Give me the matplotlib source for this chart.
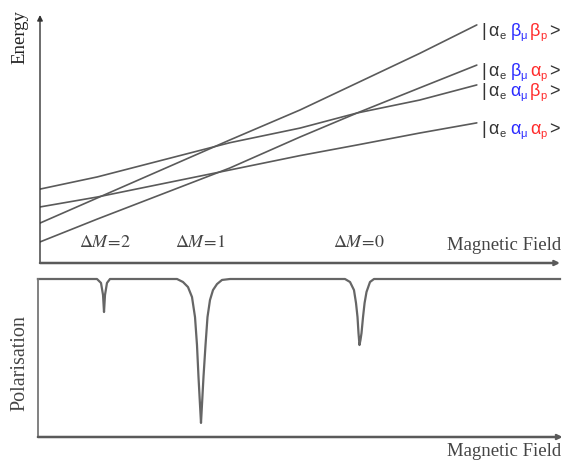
import matplotlib
matplotlib.use("Agg")
import matplotlib.pyplot as plt
import matplotlib.transforms as mtransforms


# ----------------------------------------------------------
# Data
# ----------------------------------------------------------

# top panel : energy levels vs magnetic field (arbitrary units)
field = [0.0, 1.1, 3.65, 5.0, 6.1, 7.3, 8.4]

energy_bb = [1.61, 2.62, 4.96, 6.17, 7.26, 8.45, 9.60]   # |ae bmu bp>
energy_ba = [0.85, 1.77, 3.83, 5.08, 6.05, 7.06, 7.98]   # |ae bmu ap>
energy_ab = [2.98, 3.47, 4.85, 5.44, 6.05, 6.57, 7.18]   # |ae amu bp>
energy_aa = [2.26, 2.66, 3.75, 4.33, 4.76, 5.24, 5.65]   # |ae amu ap>

levels = [energy_bb, energy_ba, energy_ab, energy_aa]

# spin labels (electron, muon, proton) for each level
spin_labels = [
    ("α", "β", "β"),
    ("α", "β", "α"),
    ("α", "α", "β"),
    ("α", "α", "α"),
]

transition_labels = ["2", "1", "0"]
transition_field = [1.25, 3.08, 6.13]

# bottom panel : polarisation vs magnetic field
pol_field = [
    -0.04, 1.096, 1.173, 1.212, 1.231, 1.25, 1.288, 1.346,
    2.635, 2.75, 2.846, 2.923, 2.981, 3.019, 3.048, 3.077, 3.096,
    3.115, 3.144, 3.183, 3.221, 3.269, 3.327, 3.404, 3.5, 3.654,
    5.865, 5.962, 6.038, 6.077, 6.106, 6.125, 6.144, 6.163, 6.183,
    6.212, 6.242, 6.279, 6.346, 6.423, 10.0,
]
polarisation = [
    1.0, 1.0, 0.975, 0.899, 0.791, 0.899, 0.975, 1.0,
    1.0, 0.981, 0.949, 0.886, 0.759, 0.582, 0.380, 0.203, 0.089,
    0.203, 0.380, 0.582, 0.759, 0.867, 0.930, 0.968, 0.994, 1.0,
    1.0, 0.981, 0.930, 0.848, 0.759, 0.658, 0.582, 0.614, 0.658,
    0.759, 0.848, 0.918, 0.981, 1.0, 1.0,
]


W, H = 566, 468
SERIF = "Liberation Serif"
SANS = "Liberation Sans"
DARK = "#333333"
LINE = "#5a5a5a"
BLUE = "#2b2bff"
RED = "#ff2b2b"


def fig_pos(px, py):
    return px / W, 1 - py / H


fig = plt.figure(figsize=(W / 100, H / 100), dpi=100)

# ----------------------------------------------------------
# Top panel
# ----------------------------------------------------------

ax1 = fig.add_axes([40 / W, (H - 263) / H, 520 / W, 248 / H])
ax1.set_xlim(0, 10)
ax1.set_ylim(0, 10)
ax1.axis("off")

for energy in levels:
    ax1.plot(field, energy, color=LINE, lw=1.2, solid_capstyle="round")

ax1.annotate("", xy=(0, 10), xytext=(0, 0), annotation_clip=False,
             arrowprops=dict(arrowstyle="-|>", color=DARK, lw=1.0,
                             mutation_scale=8, shrinkA=0, shrinkB=0))
ax1.annotate("", xy=(10, 0), xytext=(0, 0), annotation_clip=False,
             arrowprops=dict(arrowstyle="->", color=LINE, lw=1.8,
                             mutation_scale=7, shrinkA=0, shrinkB=0))

for label, b in zip(transition_labels, transition_field):
    ax1.text(b, 0.85, r"$\Delta M\!=\!" + label + "$", ha="center",
             va="center", fontsize=13, color="#444444",
             math_fontfamily="stix")

# state labels built piece by piece so that each spin gets its colour
renderer = fig.canvas.get_renderer()
for energy, spins in zip(levels, spin_labels):
    e, mu, p = spins
    pieces = [
        ("|", DARK, 13, 0, 3),
        (e, DARK, 13, 0, 0),
        ("e", DARK, 8, -3, 5),
        (mu, BLUE, 13, 0, 0),
        ("μ", BLUE, 8, -3, 3),
        (p, RED, 13, 0, 0),
        ("p", RED, 8, -3, 2),
        (">", DARK, 13, 0, 0),
    ]
    x_off = 0.0
    for text, color, size, dy, gap in pieces:
        trans = mtransforms.offset_copy(ax1.transData, fig=fig,
                                        x=x_off / 100, y=dy / 100,
                                        units="inches")
        t = ax1.text(8.48, energy[-1] - 0.45, text, transform=trans,
                     ha="left", va="baseline", fontsize=size, color=color,
                     family=SANS, clip_on=False)
        x_off += t.get_window_extent(renderer).width + gap

fig.text(*fig_pos(20, 37), "Energy", rotation=90, ha="center", va="center",
         fontsize=13.5, family=SERIF, color="#222222")
fig.text(*fig_pos(561, 245), "Magnetic Field", ha="right", va="center",
         fontsize=13.5, family=SERIF, color="#444444")

# ----------------------------------------------------------
# Bottom panel
# ----------------------------------------------------------

ax2 = fig.add_axes([40 / W, (H - 437) / H, 520 / W, 158 / H])
ax2.set_xlim(0, 10)
ax2.set_ylim(0, 1)
ax2.axis("off")

ax2.plot(pol_field, polarisation, color="#666666", lw=1.6,
         solid_joinstyle="round", clip_on=False)
ax2.plot([-0.04, -0.04], [0, 1], color="#777777", lw=1.3, clip_on=False)
ax2.annotate("", xy=(10.05, 0), xytext=(-0.04, 0), annotation_clip=False,
             arrowprops=dict(arrowstyle="->", color=LINE, lw=1.8,
                             mutation_scale=7, shrinkA=0, shrinkB=0))

fig.text(*fig_pos(20, 363), "Polarisation", rotation=90, ha="center",
         va="center", fontsize=14.5, family=SERIF, color="#444444")
fig.text(*fig_pos(561, 452), "Magnetic Field", ha="right", va="center",
         fontsize=13.5, family=SERIF, color="#444444")

fig.savefig("out.png", dpi=100)
